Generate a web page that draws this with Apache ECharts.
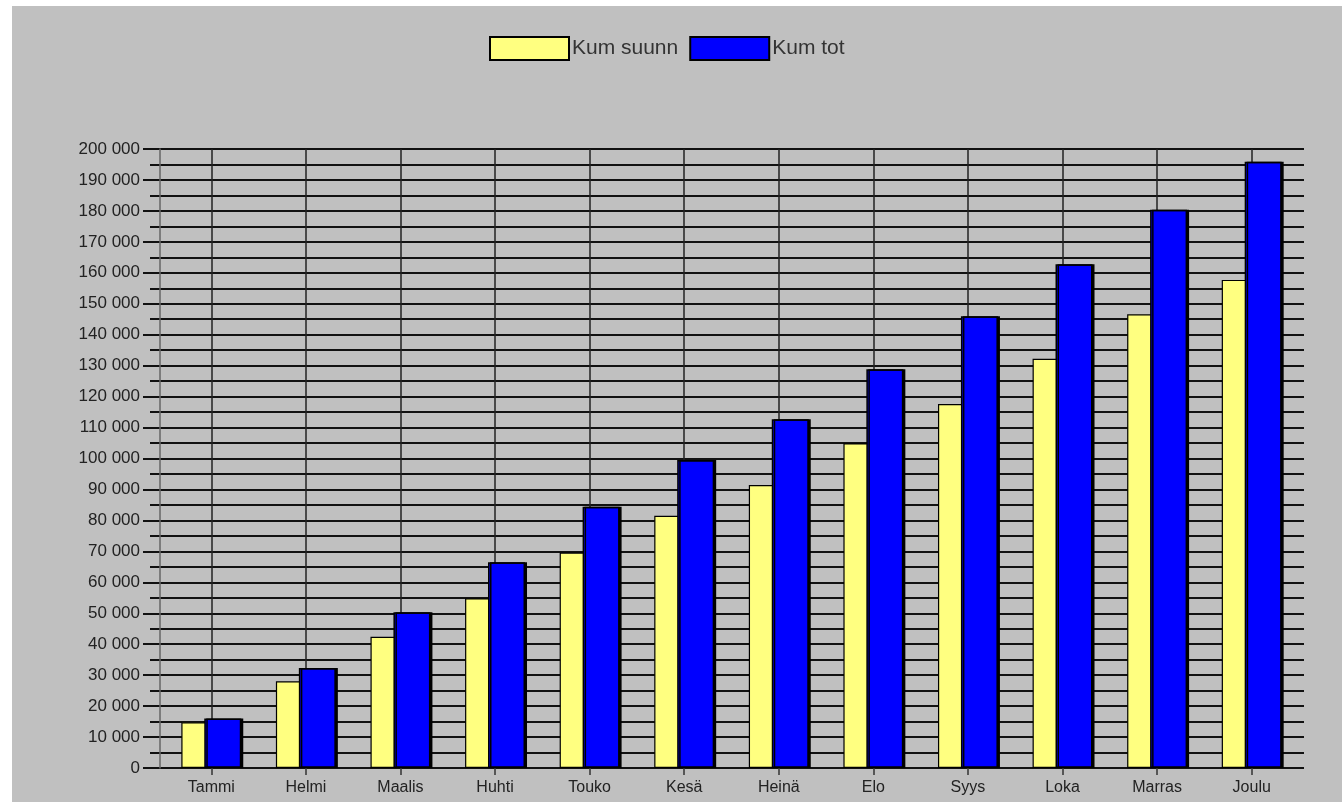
<!DOCTYPE html>
<html>
<head>
<meta charset="utf-8">
<script src="https://cdn.jsdelivr.net/npm/echarts@6/dist/echarts.min.js"></script>
<style>
html,body{margin:0;padding:0;background:#ffffff;overflow:hidden;width:1342px;height:802px;}
#chart{position:absolute;left:12px;top:6px;width:1330px;height:796px;}
</style>
</head>
<body>
<div id="chart"></div>
<script>
const categories = ['Tammi','Helmi','Maalis','Huhti','Touko','Kesä','Heinä','Elo','Syys','Loka','Marras','Joulu'];
const kumSuunn = [14800, 28000, 42400, 54800, 69600, 81500, 91400, 104900, 117600, 132200, 146600, 157700];
const kumTot   = [16000, 32300, 50300, 66500, 84400, 99500, 112700, 128800, 146000, 162800, 180400, 195900];
const seriesNames = ['Kum suunn', 'Kum tot'];
const yMin = 0, yMax = 200000, yStep = 10000;

const fmt = v => {
  const s = String(Math.round(v));
  return s.replace(/\B(?=(\d{3})+(?!\d))/g, ' ');
};

const chart = echarts.init(document.getElementById('chart'), null, {renderer: 'canvas'});
const font = 'Liberation Sans, Arial, sans-serif';
chart.setOption({
  backgroundColor: '#c0c0c0',
  animation: false,
  legend: {
    left: 477, top: 30, padding: 0,
    itemWidth: 79, itemHeight: 23, itemGap: 11,
    icon: 'rect',
    textStyle: {fontFamily: font, fontSize: 21, color: '#333', padding: [0, 0, 0, -2]},
    data: seriesNames
  },
  grid: [
    {left: 138, right: 38, top: 143, bottom: 34},
    {left: 152, right: 43, top: 143, bottom: 34}
  ],
  xAxis: [
    {gridIndex: 0, type: 'value', min: 0, max: 1, show: false},
    {
      gridIndex: 1, type: 'category', data: categories,
      axisLine: {show: false},
      axisTick: {show: true, alignWithLabel: true, length: 7, lineStyle: {color: '#333', width: 1.5}},
      axisLabel: {fontFamily: font, fontSize: 16, color: '#222', margin: 12},
      splitLine: {show: true, alignWithLabel: true, lineStyle: {color: '#222', width: 1.5}}
    }
  ],
  yAxis: [
    {
      gridIndex: 0, type: 'value', position: 'left', min: yMin, max: yMax, interval: yStep,
      axisLine: {show: false},
      axisTick: {show: true, length: 7, lineStyle: {color: '#111', width: 2}},
      axisLabel: {fontFamily: font, fontSize: 17, color: '#222', margin: 10, formatter: fmt},
      splitLine: {show: true, lineStyle: {color: '#111', width: 2}},
      minorTick: {show: false, splitNumber: 2},
      minorSplitLine: {show: true, lineStyle: {color: '#111', width: 2}}
    },
    {
      gridIndex: 0, type: 'value', position: 'left', min: yMin, max: yMax, offset: -10,
      axisLine: {show: true, lineStyle: {color: '#666', width: 1.5}},
      axisTick: {show: false}, axisLabel: {show: false}, splitLine: {show: false}
    },
    {
      gridIndex: 1, type: 'value', position: 'left', min: yMin, max: yMax, show: false,
      splitLine: {show: false}
    }
  ],
  series: [
    {
      name: seriesNames[0], type: 'bar', xAxisIndex: 1, yAxisIndex: 2,
      data: kumSuunn, barWidth: 37, barGap: '-38%',
      itemStyle: {color: '#ffff80', borderColor: '#000', borderWidth: 1.2}
    },
    {
      name: seriesNames[1], type: 'bar', xAxisIndex: 1, yAxisIndex: 2,
      data: kumTot, barWidth: 37, barGap: '-38%',
      itemStyle: {color: '#0000ff', borderColor: '#000', borderWidth: 1.5,
        shadowColor: '#000', shadowOffsetX: 2, shadowOffsetY: 0, shadowBlur: 0}
    }
  ]
});
</script>
</body>
</html>
